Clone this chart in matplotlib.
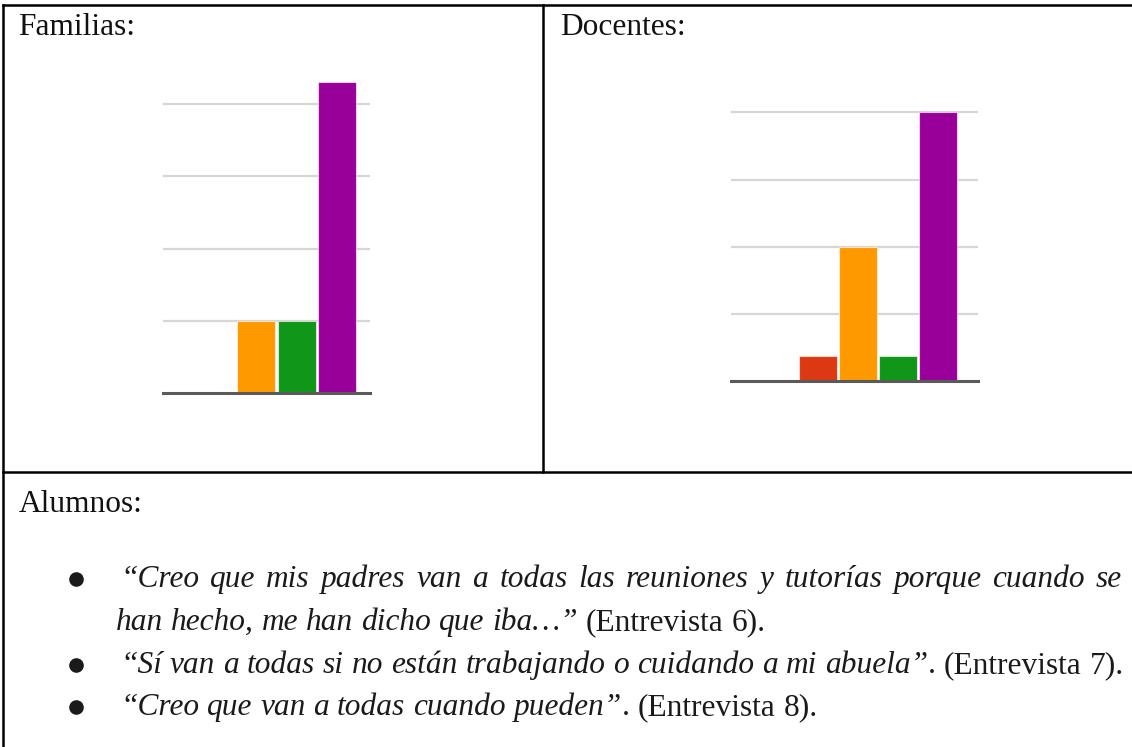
"""
Familias / Docentes bar charts inside a table, with student quotes below.
"""

# Imports #
import matplotlib
matplotlib.use("Agg")
from matplotlib import pyplot as plt
from matplotlib.lines import Line2D
from matplotlib.transforms import IdentityTransform

# Data #
categories = ["Nunca", "Casi nunca", "A veces", "Casi siempre", "Siempre"]
familias_values = [0, 0, 2, 2, 8.6]
familias_ticks = [0, 2, 4, 6, 8]
docentes_values = [0, 1.1, 6, 1.1, 12]
docentes_ticks = [0, 3, 6, 9, 12]
bar_colors = ["#3366cc", "#dc3912", "#ff9900", "#109618", "#990099"]

quote_lines = [
    [("“Creo que mis padres van a todas las reuniones y tutorías porque cuando se", True)],
    [("han hecho, me han dicho que iba…”", True), (" (Entrevista 6).", False)],
    [("“Sí van a todas si no están trabajando o cuidando a mi abuela”", True), (". (Entrevista 7).", False)],
    [("“Creo que van a todas cuando pueden”", True), (". (Entrevista 8).", False)],
]

W, H = 1132, 747
FONT = "Liberation Serif"
FS = 22.6

fig = plt.figure(figsize=(W / 100, H / 100), dpi=100)
fig.patch.set_facecolor("white")


def fx(x):
    return x / W


def fy(y):
    return 1 - y / H


def add_chart(left, right, top, bottom, values, ticks, xlim, ylim):
    ax = fig.add_axes([fx(left), fy(bottom), fx(right) - fx(left), (bottom - top) / H])
    ax.bar(range(len(values)), values, width=0.94, color=bar_colors,
           edgecolor=(1, 1, 1, 0.6), linewidth=0.8, zorder=3)
    ax.set_xlim(*xlim)
    ax.set_ylim(*ylim)
    ax.set_yticks(ticks[1:])
    ax.yaxis.grid(True, color="#d6d6d6", linewidth=1.6, zorder=0)
    ax.axhline(0, color="#5a5a5a", linewidth=2.2, zorder=4, clip_on=False)
    ax.tick_params(left=False, bottom=False, labelleft=False, labelbottom=False)
    for s in ax.spines.values():
        s.set_visible(False)
    ax.set_facecolor("none")
    return ax


# Charts #
add_chart(163, 370, 68, 393, familias_values, familias_ticks,
          (-0.30, 4.81), (0, 9))
add_chart(731, 978, 90, 381, docentes_values, docentes_ticks,
          (-1.175, 5.0), (0, 13))

# Table borders #
border = dict(color="black", linewidth=1.8, transform=fig.transFigure)
fig.add_artist(Line2D([fx(3), fx(W)], [fy(5), fy(5)], **border))
fig.add_artist(Line2D([fx(3), fx(3)], [fy(5), fy(H)], **border))
fig.add_artist(Line2D([fx(543), fx(543)], [fy(5), fy(472)], **border))
fig.add_artist(Line2D([fx(3), fx(W)], [fy(472), fy(472)], **border))

# Headings #
for label, x, y in [("Familias:", 18, 35), ("Docentes:", 560, 35), ("Alumnos:", 19, 512)]:
    fig.text(fx(x), fy(y), label, family=FONT, fontsize=FS, va="baseline", color="#111111")

renderer = fig.canvas.get_renderer()


def text_width(s, italic):
    t = fig.text(0, 0, s, family=FONT, fontsize=FS, style="italic" if italic else "normal")
    w = t.get_window_extent(renderer).width
    t.remove()
    return w


space_w = text_width("a a", False) - text_width("aa", False)


def draw_line(runs, x0, y0, right=None):
    # split runs into words; a word keeps a flag telling if a space goes before it
    words = []
    for txt, italic in runs:
        parts = txt.split(" ")
        for i, p in enumerate(parts):
            if p == "":
                continue
            gap = i > 0 or txt.startswith(" ")
            words.append((p, italic, gap and len(words) > 0))
    widths = [text_width(w, it) for w, it, _ in words]
    n_gaps = sum(1 for _, _, g in words if g)
    gap = space_w
    if right is not None and n_gaps:
        gap = (right - x0 - sum(widths)) / n_gaps
    x = x0
    for (w, it, g), wd in zip(words, widths):
        if g:
            x += gap
        fig.text(x, H - y0, w, family=FONT, fontsize=FS, va="baseline",
                 style="italic" if it else "normal", color="#1a1a1a",
                 transform=IdentityTransform())
        x += wd


# Quotes #
draw_line(quote_lines[0], 120, 587, right=1122)
draw_line(quote_lines[1], 116, 630)
draw_line(quote_lines[2], 120, 673)
draw_line(quote_lines[3], 120, 715)

for y in [579, 665, 707]:
    fig.add_artist(Line2D([fx(76)], [fy(y)], marker="o", markersize=9.5,
                          color="#1a1a1a", transform=fig.transFigure))

fig.savefig("out.png", dpi=100, facecolor="white")
